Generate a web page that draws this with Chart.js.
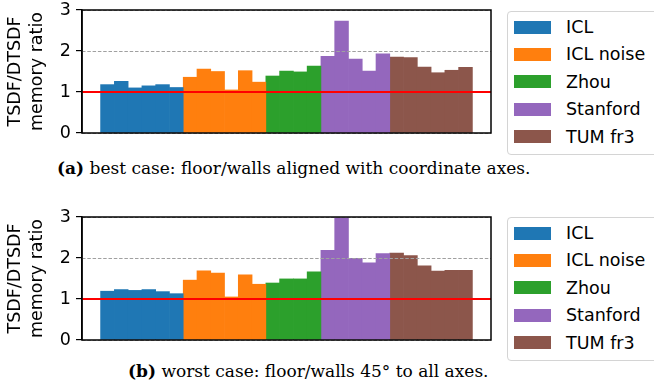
<!DOCTYPE html>
<html><head><meta charset="utf-8">
<script src="https://cdn.jsdelivr.net/npm/chart.js@4/dist/chart.umd.min.js"></script>
<style>
html,body{margin:0;padding:0;background:#fff;}
#wrap{position:relative;width:654px;height:392px;overflow:hidden;background:#fff;font-family:"DejaVu Sans",sans-serif;}
canvas{position:absolute;left:0;}
.legend{position:absolute;left:507px;width:175px;height:144px;border:1px solid #d4d4d4;border-radius:4px;box-sizing:border-box;background:#fff;}
.item{position:absolute;left:0;height:20px;width:170px;}
.patch{position:absolute;left:6px;top:3.5px;width:37px;height:13px;}
.lab{position:absolute;left:58px;top:0;font-size:17.5px;line-height:20px;color:#000;white-space:nowrap;}
.caption{position:absolute;font-family:"DejaVu Serif",serif;font-size:17px;line-height:20px;white-space:nowrap;color:#000;}
</style>
</head><body>
<div id="wrap">
  <canvas id="c1" width="500" height="145" style="top:0"></canvas>
  <div class="legend" id="leg1" style="top:11px"></div>
  <div class="caption" id="cap1" style="left:57px;top:158px"></div>
  <canvas id="c2" width="500" height="145" style="top:207px"></canvas>
  <div class="legend" id="leg2" style="top:217px"></div>
  <div class="caption" id="cap2" style="left:128px;top:361px"></div>
</div>
<script>
// ---- data ----
const groups = ['ICL', 'ICL noise', 'Zhou', 'Stanford', 'TUM fr3'];
const colors = ['#1f77b4', '#ff7f0e', '#2ca02c', '#9467bd', '#8c564b'];

const best_ICL      = [1.18, 1.26, 1.10, 1.15, 1.18, 1.11];
const best_ICLnoise = [1.36, 1.56, 1.50, 1.05, 1.52, 1.24];
const best_Zhou     = [1.39, 1.51, 1.49, 1.63];
const best_Stanford = [1.87, 2.73, 1.80, 1.51, 1.93];
const best_TUM      = [1.85, 1.84, 1.61, 1.47, 1.53, 1.60];

const worst_ICL      = [1.19, 1.23, 1.21, 1.23, 1.18, 1.13];
const worst_ICLnoise = [1.46, 1.69, 1.63, 1.05, 1.59, 1.36];
const worst_Zhou     = [1.39, 1.49, 1.49, 1.66];
const worst_Stanford = [2.19, 2.98, 1.99, 1.88, 2.11];
const worst_TUM      = [2.12, 2.06, 1.81, 1.68, 1.70, 1.70];

const yTicks = [0, 1, 2, 3];
const refLine = 1;
const yTitle = ['TSDF/DTSDF', 'memory ratio'];
const captionA = ['(a)', 'best case: floor/walls aligned with coordinate axes.'];
const captionB = ['(b)', 'worst case: floor/walls 45\u00b0 to all axes.'];

// ---- build ----
function buildDatasets(seriesList) {
  let idx = 0;
  return seriesList.map((vals, g) => {
    const data = vals.map(v => ({ x: idx++, y: v }));
    return {
      label: groups[g], data,
      backgroundColor: colors[g], borderWidth: 0,
      barPercentage: 1.0, categoryPercentage: 1.0, grouped: false
    };
  });
}

const framePlugin = {
  id: 'frame',
  afterDatasetsDraw(chart) {
    const { ctx, chartArea: { left, right, top, bottom }, scales: { y } } = chart;
    ctx.save();
    ctx.lineWidth = 1;
    ctx.strokeStyle = '#a0a0a0';
    ctx.setLineDash([3.5, 1.8]);
    yTicks.forEach(v => {
      const py = Math.round(y.getPixelForValue(v)) + 0.5;
      ctx.beginPath(); ctx.moveTo(left, py); ctx.lineTo(right, py); ctx.stroke();
    });
    ctx.setLineDash([]);
    ctx.strokeStyle = '#ff0000';
    ctx.lineWidth = 2;
    const ry = y.getPixelForValue(refLine);
    ctx.beginPath(); ctx.moveTo(left, ry); ctx.lineTo(right, ry); ctx.stroke();
    ctx.strokeStyle = '#000';
    ctx.lineWidth = 1.5;
    ctx.strokeRect(left, top, right - left, bottom - top);
    ctx.restore();
  }
};

function makeChart(id, seriesList) {
  const datasets = buildDatasets(seriesList);
  const n = seriesList.reduce((a, s) => a + s.length, 0);
  const margin = 0.05 * n;
  return new Chart(document.getElementById(id), {
    type: 'bar',
    data: { datasets },
    options: {
      responsive: false, animation: false,
      layout: { padding: { left: 0, top: 10, right: 9, bottom: 12 } },
      plugins: { legend: { display: false }, tooltip: { enabled: false } },
      scales: {
        x: {
          type: 'linear', display: false, offset: false,
          min: -0.5 - margin, max: n - 0.5 + margin,
          afterBuildTicks(scale) { scale.ticks = Array.from({ length: n }, (_, i) => ({ value: i })); }
        },
        y: {
          min: yTicks[0], max: yTicks[yTicks.length - 1],
          afterBuildTicks(scale) { scale.ticks = yTicks.map(v => ({ value: v })); },
          afterFit(scale) { scale.width = 82; scale.paddingTop = 0; scale.paddingBottom = 0; },
          ticks: { color: '#000', font: { family: 'DejaVu Sans', size: 17.5, lineHeight: 0.4 }, padding: 5 },
          grid: { drawOnChartArea: false, drawTicks: true, tickLength: 6, color: '#000', lineWidth: 1.2 },
          border: { display: true, color: '#000', width: 1.5 },
          title: {
            display: true, text: yTitle, color: '#000', padding: { top: 5, bottom: 0 },
            font: { family: 'DejaVu Sans', size: 17.5, lineHeight: 1.25 }
          }
        }
      }
    },
    plugins: [framePlugin]
  });
}

function makeLegend(id) {
  const el = document.getElementById(id);
  groups.forEach((g, i) => {
    const it = document.createElement('div');
    it.className = 'item';
    it.style.top = (5 + i * 27.4) + 'px';
    const p = document.createElement('div'); p.className = 'patch'; p.style.background = colors[i];
    const t = document.createElement('div'); t.className = 'lab'; t.textContent = g;
    it.appendChild(p); it.appendChild(t); el.appendChild(it);
  });
}

function makeCaption(id, parts) {
  const el = document.getElementById(id);
  const b = document.createElement('b'); b.textContent = parts[0];
  el.appendChild(b);
  el.appendChild(document.createTextNode(' ' + parts[1]));
}

makeChart('c1', [best_ICL, best_ICLnoise, best_Zhou, best_Stanford, best_TUM]);
makeChart('c2', [worst_ICL, worst_ICLnoise, worst_Zhou, worst_Stanford, worst_TUM]);
makeLegend('leg1'); makeLegend('leg2');
makeCaption('cap1', captionA); makeCaption('cap2', captionB);
</script>
</body></html>
